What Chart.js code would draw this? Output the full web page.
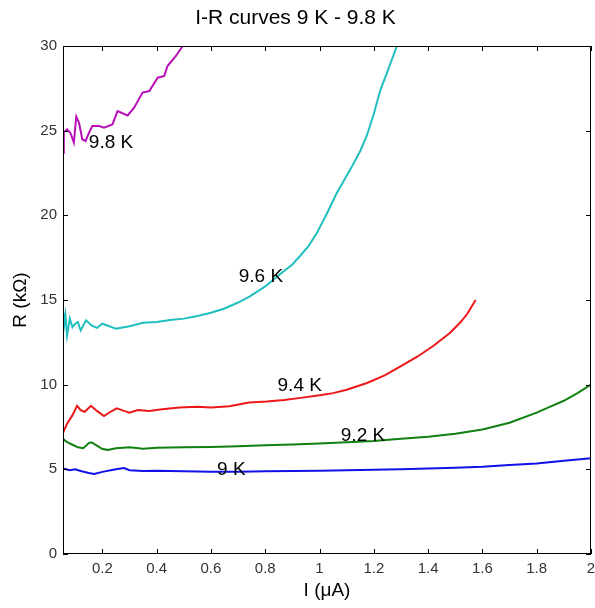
<!DOCTYPE html>
<html>
<head>
<meta charset="utf-8">
<script src="https://cdn.jsdelivr.net/npm/chart.js@4"></script>
<style>
  html, body { margin:0; padding:0; background:#fff; }
  #wrap { width:595px; height:608px; }
</style>
</head>
<body>
<div id="wrap"><canvas id="irChart" width="595" height="608"></canvas></div>
<script>
// Tick labels
const xTicks = [0.2, 0.4, 0.6, 0.8, 1, 1.2, 1.4, 1.6, 1.8, 2];
const yTicks = [0, 5, 10, 15, 20, 25, 30];

// Curves: I (µA) / R (kΩ)
const i9K = [0.055,0.08,0.1,0.12,0.15,0.17,0.2,0.25,0.28,0.3,0.35,0.4,0.5,0.6,0.7,0.8,0.9,1.0,1.1,1.2,1.3,1.4,1.5,1.6,1.7,1.8,1.9,2.0];
const r9K = [5.05,4.95,5.0,4.9,4.78,4.72,4.85,5.0,5.08,4.95,4.9,4.92,4.88,4.85,4.86,4.88,4.9,4.92,4.95,4.97,5.0,5.05,5.1,5.15,5.25,5.35,5.5,5.65];

const i92K = [0.055,0.07,0.09,0.11,0.13,0.15,0.16,0.18,0.2,0.22,0.25,0.3,0.35,0.4,0.5,0.6,0.7,0.8,0.9,1.0,1.1,1.2,1.3,1.4,1.5,1.6,1.7,1.8,1.85,1.9,1.95,2.0];
const r92K = [6.8,6.6,6.45,6.3,6.25,6.55,6.6,6.4,6.2,6.15,6.25,6.3,6.22,6.28,6.3,6.32,6.36,6.42,6.46,6.52,6.6,6.68,6.8,6.92,7.1,7.35,7.75,8.35,8.7,9.05,9.5,10.0];

const i94K = [0.055,0.07,0.09,0.107,0.12,0.135,0.158,0.18,0.206,0.23,0.253,0.28,0.3,0.33,0.373,0.42,0.484,0.55,0.6,0.668,0.74,0.805,0.87,0.93,1.0,1.05,1.1,1.175,1.24,1.3,1.36,1.42,1.48,1.52,1.545,1.575];
const r94K = [7.15,7.7,8.2,8.75,8.5,8.4,8.75,8.45,8.15,8.4,8.6,8.45,8.35,8.5,8.45,8.55,8.65,8.7,8.65,8.72,8.95,9.0,9.1,9.22,9.38,9.5,9.7,10.1,10.55,11.1,11.65,12.3,13.05,13.7,14.2,15.0];

const i96K = [0.053,0.056,0.06,0.064,0.07,0.075,0.08,0.09,0.1,0.11,0.12,0.14,0.16,0.18,0.2,0.25,0.3,0.35,0.4,0.45,0.5,0.55,0.6,0.65,0.7,0.742,0.8,0.853,0.9,0.928,0.96,0.99,1.03,1.063,1.113,1.15,1.174,1.2,1.224,1.248,1.285];
const r96K = [12.3,14.3,13.6,14.1,12.9,13.4,13.9,13.4,13.6,13.7,13.2,13.8,13.5,13.35,13.6,13.3,13.45,13.65,13.7,13.82,13.9,14.05,14.25,14.5,14.85,15.2,15.8,16.5,17.1,17.6,18.2,18.95,20.2,21.3,22.7,23.8,24.7,26.0,27.4,28.4,30.0];

const i98K = [0.055,0.058,0.07,0.082,0.095,0.104,0.114,0.126,0.138,0.151,0.163,0.188,0.206,0.237,0.256,0.293,0.317,0.348,0.373,0.404,0.428,0.44,0.471,0.496];
const r98K = [23.7,24.9,25.08,24.88,24.3,25.83,25.47,24.49,24.39,24.88,25.27,25.27,25.18,25.37,26.16,25.9,26.36,27.25,27.34,28.13,28.23,28.82,29.41,30.0];

// Curve labels: text, I, R
const labelText = ['9 K', '9.2 K', '9.4 K', '9.6 K', '9.8 K'];
const labelI = [0.675, 1.16, 0.927, 0.784, 0.232];
const labelR = [5.0, 7.0, 9.95, 16.4, 24.3];

const toPts = (xs, ys) => xs.map((x, k) => ({ x: x, y: ys[k] }));
const FONT = 'Liberation Sans, Arial, sans-serif';

// inward ticks + box, curve labels
const matlabAxes = {
  id: 'matlabAxes',
  afterDatasetsDraw(chart) {
    const { ctx, chartArea: a, scales: { x, y } } = chart;
    ctx.save();
    ctx.strokeStyle = '#000';
    ctx.lineWidth = 1;
    ctx.strokeRect(a.left + 0.5, a.top + 0.5, a.right - a.left - 1, a.bottom - a.top - 1);
    const len = 5;
    ctx.beginPath();
    xTicks.forEach(v => {
      const px = Math.round(x.getPixelForValue(v)) + 0.5;
      ctx.moveTo(px, a.bottom); ctx.lineTo(px, a.bottom - len);
      ctx.moveTo(px, a.top); ctx.lineTo(px, a.top + len);
    });
    yTicks.forEach(v => {
      const py = Math.round(y.getPixelForValue(v)) + 0.5;
      ctx.moveTo(a.left, py); ctx.lineTo(a.left + len, py);
      ctx.moveTo(a.right, py); ctx.lineTo(a.right - len, py);
    });
    ctx.stroke();

    ctx.fillStyle = '#000';
    ctx.font = '19px ' + FONT;
    ctx.textAlign = 'center';
    ctx.textBaseline = 'middle';
    labelText.forEach((t, k) => {
      ctx.fillText(t, x.getPixelForValue(labelI[k]), y.getPixelForValue(labelR[k]));
    });
    ctx.restore();
  }
};

const mkSet = (xs, ys, color) => ({
  data: toPts(xs, ys),
  borderColor: color,
  backgroundColor: color,
  borderWidth: 2,
  pointRadius: 0,
  showLine: true,
  tension: 0
});

new Chart(document.getElementById('irChart'), {
  type: 'scatter',
  data: {
    datasets: [
      mkSet(i9K, r9K, '#1010e8'),
      mkSet(i92K, r92K, '#108010'),
      mkSet(i94K, r94K, '#ec1818'),
      mkSet(i96K, r96K, '#20bfbf'),
      mkSet(i98K, r98K, '#b810b8')
    ]
  },
  options: {
    responsive: false,
    animation: false,
    clip: 0,
    layout: { padding: { left: 0, right: 4, top: 0, bottom: 0 } },
    plugins: {
      legend: { display: false },
      tooltip: { enabled: false },
      title: {
        display: true,
        text: 'I-R curves 9 K - 9.8 K',
        color: '#000',
        font: { family: FONT, size: 21, weight: 'normal' },
        padding: { top: 6, bottom: 14.8 }
      }
    },
    scales: {
      x: {
        type: 'linear',
        min: 0.055,
        max: 2,
        grid: { display: false, drawTicks: false },
        border: { display: false },
        afterBuildTicks: s => { s.ticks = xTicks.map(v => ({ value: v })); },
        afterFit: s => { s.height = 54; s.paddingLeft = 0; s.paddingRight = 0; },
        ticks: {
          color: '#333',
          padding: 6,
          maxRotation: 0,
          font: { family: FONT, size: 15 },
          callback: v => String(v)
        },
        title: {
          display: true,
          text: 'I (\u03bcA)',
          color: '#000',
          font: { family: FONT, size: 19 },
          padding: { top: 0, bottom: 5.6 }
        }
      },
      y: {
        type: 'linear',
        min: 0,
        max: 30,
        grid: { display: false, drawTicks: false },
        border: { display: false },
        afterBuildTicks: s => { s.ticks = yTicks.map(v => ({ value: v })); },
        afterFit: s => { s.width = 63; s.paddingTop = 0; s.paddingBottom = 0; },
        ticks: {
          color: '#333',
          padding: 6,
          font: { family: FONT, size: 15 },
          callback: v => String(v)
        },
        title: {
          display: true,
          text: 'R (k\u03a9)',
          color: '#000',
          font: { family: FONT, size: 19 },
          padding: { top: 9.6, bottom: 0 }
        }
      }
    }
  },
  plugins: [matlabAxes]
});
</script>
</body>
</html>
